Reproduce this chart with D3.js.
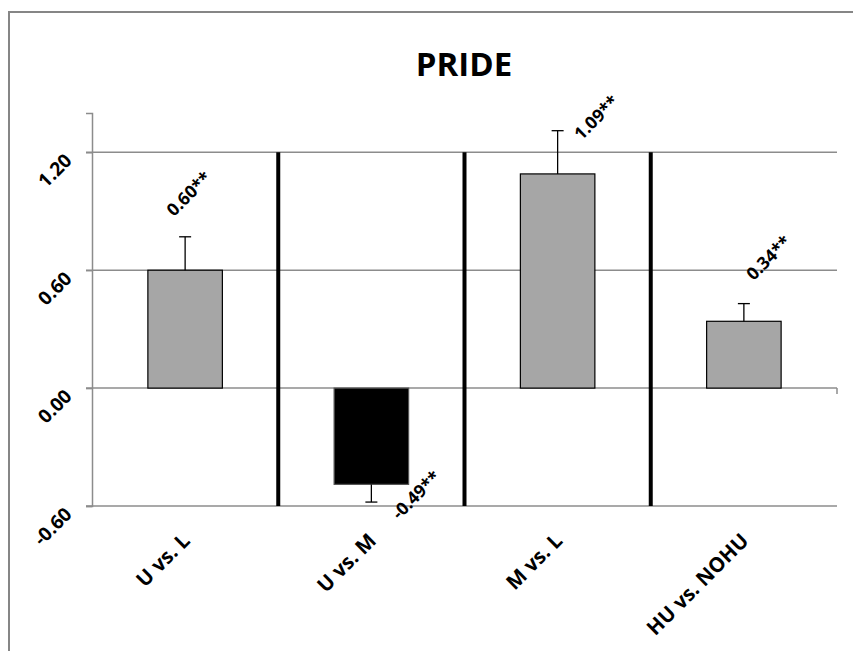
<!DOCTYPE html>
<html>
<head>
<meta charset="utf-8">
<script src="https://cdn.jsdelivr.net/npm/d3@7"></script>
<style>
  body { margin: 0; background: #fff; }
  text { font-family: "Open Sans", Lato, sans-serif; font-weight: 700; fill: #000; }
</style>
</head>
<body>
<svg id="chart" width="853" height="651"></svg>
<script>
// Mean differences in PRIDE between group pairs
const categories = ["U vs. L", "U vs. M", "M vs. L", "HU vs. NOHU"];
const values = [0.60, -0.49, 1.09, 0.34];
const errors = [0.17, 0.09, 0.22, 0.09];
const valueLabels = ["0.60**", "-0.49**", "1.09**", "0.34**"];
const barColors = ["#a6a6a6", "#000000", "#a6a6a6", "#a6a6a6"];
const yTicks = [-0.60, 0.00, 0.60, 1.20];
const yDomain = [-0.60, 1.40];
const chartTitle = "PRIDE";

// label nudges (px) from the bar end, for the rotated value labels
const labelNudge = [[3, -77], [44, 10], [38, -57], [24, -64]];

const svg = d3.select("#chart");
const plot = { left: 92, right: 837, top: 113, bottom: 506 };

// outer chart frame
svg.append("rect")
  .attr("x", 9).attr("y", 12)
  .attr("width", 900).attr("height", 700)
  .attr("fill", "none").attr("stroke", "#868686").attr("stroke-width", 2);

svg.append("text")
  .attr("x", 464).attr("y", 76)
  .attr("text-anchor", "middle")
  .style("font-size", "33px")
  .text(chartTitle);

const x = d3.scaleBand()
  .domain(categories)
  .range([plot.left, plot.right])
  .paddingInner(0.6)
  .paddingOuter(0.3);

const y = d3.scaleLinear().domain(yDomain).range([plot.bottom, plot.top]);

const step = x.step();
const catCenter = c => x(c) + x.bandwidth() / 2;

// horizontal gridlines
svg.append("g").selectAll("line")
  .data(yTicks)
  .join("line")
  .attr("x1", plot.left - 6).attr("x2", plot.right)
  .attr("y1", d => y(d)).attr("y2", d => y(d))
  .attr("stroke", "#8c8c8c").attr("stroke-width", 1.5);

// vertical value axis
const yAxis = svg.append("g")
  .attr("transform", `translate(${plot.left},0)`)
  .call(d3.axisLeft(y).tickValues(yTicks).tickSize(6).tickFormat(d => d.toFixed(2)));
yAxis.attr("font-size", null).attr("font-family", null);
yAxis.select(".domain").attr("stroke", "#8c8c8c").attr("stroke-width", 1.5);
yAxis.selectAll(".tick line").attr("stroke", "#8c8c8c").attr("stroke-width", 1.5);
yAxis.selectAll(".tick text")
  .attr("x", null).attr("dy", null)
  .attr("text-anchor", "end")
  .attr("transform", "translate(-19,9) rotate(-45)")
  .style("font-size", "19px");

// small tick at the right end of the category axis
svg.append("line")
  .attr("x1", plot.right).attr("x2", plot.right)
  .attr("y1", y(0)).attr("y2", y(0) + 6)
  .attr("stroke", "#8c8c8c").attr("stroke-width", 1.5);

// bars
svg.append("g").selectAll("rect")
  .data(values)
  .join("rect")
  .attr("x", (d, i) => x(categories[i]))
  .attr("width", x.bandwidth())
  .attr("y", d => y(Math.max(0, d)))
  .attr("height", d => Math.abs(y(d) - y(0)))
  .attr("fill", (d, i) => barColors[i])
  .attr("stroke", (d, i) => d < 0 ? "#555" : "#000")
  .attr("stroke-width", 1.2);

// one-sided error bars
const err = svg.append("g").attr("stroke", "#000").attr("stroke-width", 1.3);
values.forEach((v, i) => {
  const cx = catCenter(categories[i]);
  const end = v + Math.sign(v) * errors[i];
  err.append("line").attr("x1", cx).attr("x2", cx).attr("y1", y(v)).attr("y2", y(end));
  err.append("line").attr("x1", cx - 6).attr("x2", cx + 6).attr("y1", y(end)).attr("y2", y(end));
});

// thick separators between comparisons
svg.append("g").selectAll("line")
  .data(d3.range(1, categories.length))
  .join("line")
  .attr("x1", i => plot.left + i * step).attr("x2", i => plot.left + i * step)
  .attr("y1", y(yTicks[yTicks.length - 1])).attr("y2", y(yTicks[0]))
  .attr("stroke", "#000").attr("stroke-width", 4);

// value labels
svg.append("g").selectAll("text")
  .data(values)
  .join("text")
  .attr("text-anchor", "middle")
  .attr("dominant-baseline", "central")
  .attr("transform", (d, i) =>
    `translate(${catCenter(categories[i]) + labelNudge[i][0]},${y(d) + labelNudge[i][1]}) rotate(-45)`)
  .style("font-size", "17.5px")
  .text((d, i) => valueLabels[i]);

// category labels
svg.append("g").selectAll("text")
  .data(categories)
  .join("text")
  .attr("text-anchor", "end")
  .attr("transform", d => `translate(${catCenter(d) + 6},542) rotate(-45)`)
  .style("font-size", "20.5px")
  .text(d => d);
</script>
</body>
</html>
